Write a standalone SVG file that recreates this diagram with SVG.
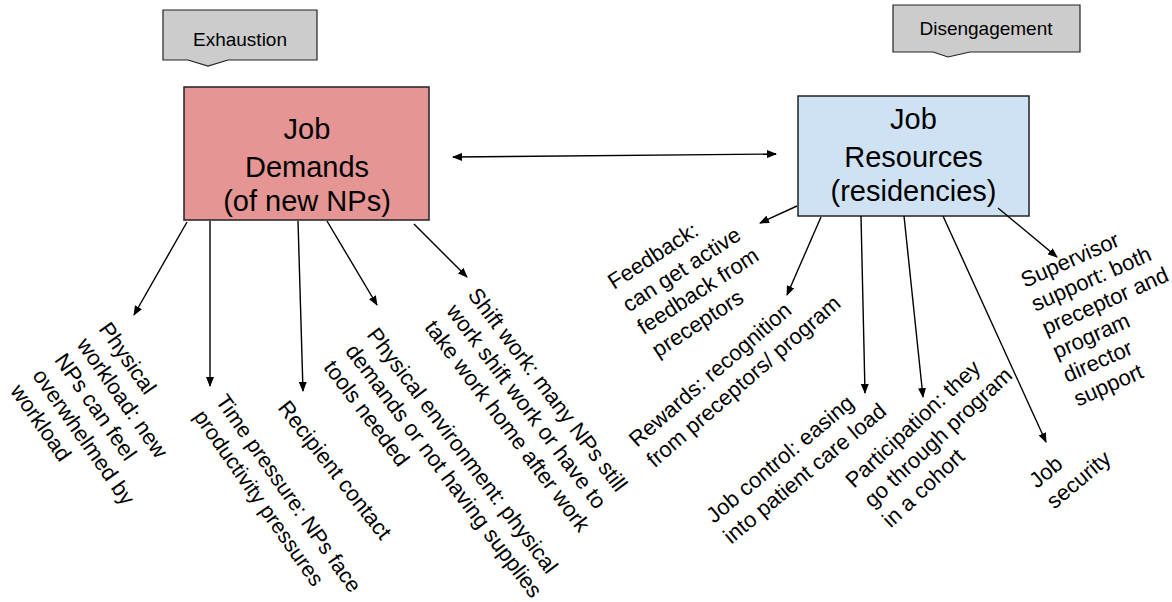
<svg xmlns="http://www.w3.org/2000/svg" width="1172" height="602" viewBox="0 0 1172 602">
<defs>
<style>
.box{stroke:#222;stroke-width:1.5}
.call{fill:#cccccc;stroke:#222;stroke-width:1.2}
.t{font-family:"Liberation Sans",Arial,sans-serif;fill:#000}
.big{font-size:29px}
.lab{font-size:19px}
.rot{font-size:22px}
.con{stroke:#000;stroke-width:1.4;fill:none;marker-end:url(#ah)}
</style>
<marker id="ah" viewBox="0 0 10 8" refX="9" refY="4" markerWidth="10" markerHeight="8" markerUnits="userSpaceOnUse" orient="auto-start-reverse">
<path d="M0,0 L10,4 L0,8 z" fill="#000"/>
</marker>
</defs>
<rect width="1172" height="602" fill="#fff"/>

<g id="exhaustion">
<path class="call" d="M163,10 H317 V60 H228 L208,66 L188,60 H163 Z"/>
<text class="t lab" x="240" y="46" text-anchor="middle">Exhaustion</text>
</g>

<g id="disengagement">
<path class="call" d="M893,5 H1080 V52 H970 L948,57 L933,52 H893 Z"/>
<text class="t lab" x="986" y="35" text-anchor="middle">Disengagement</text>
</g>

<g id="job-demands">
<rect class="box" x="184" y="87" width="245" height="133" fill="#e69595"/>
<text class="t big" text-anchor="middle"><tspan x="307" y="139">Job</tspan><tspan x="307" y="177">Demands</tspan><tspan x="307" y="211">(of new NPs)</tspan></text>
</g>

<g id="job-resources">
<rect class="box" x="798" y="96" width="231" height="120" fill="#cfe2f3"/>
<text class="t big" text-anchor="middle"><tspan x="913.5" y="129">Job</tspan><tspan x="913.5" y="167">Resources</tspan><tspan x="913.5" y="201">(residencies)</tspan></text>
</g>

<g id="connectors">
<line class="con" x1="453" y1="157" x2="776" y2="154" style="marker-start:url(#ah)"/>
<line class="con" x1="187" y1="222" x2="134" y2="315"/>
<line class="con" x1="210" y1="221" x2="210" y2="386"/>
<line class="con" x1="298" y1="221" x2="303" y2="391"/>
<line class="con" x1="327" y1="221" x2="377" y2="305"/>
<line class="con" x1="414" y1="224" x2="467" y2="277"/>
<line class="con" x1="797" y1="206" x2="760" y2="223"/>
<line class="con" x1="821" y1="217" x2="787" y2="295"/>
<line class="con" x1="861" y1="216" x2="865" y2="393"/>
<line class="con" x1="904" y1="216" x2="923" y2="397"/>
<line class="con" x1="943" y1="216" x2="1046" y2="442"/>
<line class="con" x1="998" y1="208" x2="1057" y2="257"/>
</g>

<g id="physical-workload">
<text class="t rot" transform="translate(98,329) rotate(55)"><tspan x="0" y="0">Physical</tspan><tspan x="0" y="27">workload: new</tspan><tspan x="0" y="54">NPs can feel</tspan><tspan x="0" y="81">overwhelmed by</tspan><tspan x="0" y="108">workload</tspan></text>
</g>
<g id="time-pressure">
<text class="t rot" transform="translate(215,401) rotate(55)" style="font-size:21.5px"><tspan x="0" y="0">Time pressure: NPs face</tspan><tspan x="0" y="27">productivity pressures</tspan></text>
</g>
<g id="recipient-contact">
<text class="t rot" transform="translate(277,408) rotate(52)">Recipient contact</text>
</g>
<g id="physical-environment">
<text class="t rot" transform="translate(366,335) rotate(53)"><tspan x="0" y="0">Physical environment: physical</tspan><tspan x="0" y="27">demands or not having supplies</tspan><tspan x="0" y="54">tools needed</tspan></text>
</g>
<g id="shift-work">
<text class="t rot" transform="translate(467,295) rotate(53)"><tspan x="0" y="0">Shift work: many NPs still</tspan><tspan x="0" y="27">work shift work or have to</tspan><tspan x="0" y="54">take work home after work</tspan></text>
</g>

<g id="feedback">
<text class="t rot" transform="translate(614,290) rotate(-33)"><tspan x="0" y="0">Feedback:</tspan><tspan x="0" y="27">can get active</tspan><tspan x="0" y="54">feedback from</tspan><tspan x="0" y="81">preceptors</tspan></text>
</g>
<g id="rewards">
<text class="t rot" transform="translate(637,448) rotate(-41)"><tspan x="0" y="0">Rewards: recognition</tspan><tspan x="0" y="27">from preceptors/ program</tspan></text>
</g>
<g id="job-control">
<text class="t rot" transform="translate(714,524) rotate(-40)"><tspan x="0" y="0">Job control: easing</tspan><tspan x="0" y="27">into patient care load</tspan></text>
</g>
<g id="participation">
<text class="t rot" transform="translate(854,489) rotate(-43)"><tspan x="0" y="0">Participation: they</tspan><tspan x="0" y="27">go through program</tspan><tspan x="0" y="54">in a cohort</tspan></text>
</g>
<g id="job-security">
<text class="t rot" transform="translate(1037,489) rotate(-40)"><tspan x="0" y="0">Job</tspan><tspan x="0" y="27">security</tspan></text>
</g>
<g id="supervisor-support">
<text class="t rot" transform="translate(1025,288) rotate(-24)"><tspan x="0" y="0">Supervisor</tspan><tspan x="0" y="26">support: both</tspan><tspan x="0" y="52">preceptor and</tspan><tspan x="0" y="78">program</tspan><tspan x="0" y="104">director</tspan><tspan x="0" y="130">support</tspan></text>
</g>
</svg>
